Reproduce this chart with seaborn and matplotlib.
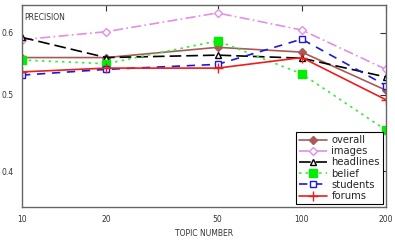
import matplotlib
matplotlib.use("Agg")
import matplotlib.pyplot as plt
import matplotlib.ticker as mticker
import seaborn as sns
import pandas as pd

topics = [10, 20, 50, 100, 200]
overall = [0.558, 0.558, 0.575, 0.567, 0.507]
images = [0.588, 0.602, 0.636, 0.605, 0.539]
headlines = [0.592, 0.558, 0.562, 0.557, 0.527]
belief = [0.554, 0.548, 0.586, 0.532, 0.451]
students = [0.530, 0.539, 0.547, 0.589, 0.514]
forums = [0.535, 0.541, 0.541, 0.558, 0.493]

series = {
    "overall": overall,
    "images": images,
    "headlines": headlines,
    "belief": belief,
    "students": students,
    "forums": forums,
}
styles = {
    "overall": dict(color="#a85a58", marker="D", ms=4, mfc="#a85a58", ls="-"),
    "images": dict(color="#e48ee4", marker="D", ms=4.5, mfc="white", ls=(0, (6, 2, 1, 2))),
    "headlines": dict(color="black", marker="^", ms=4.5, mfc="white", ls=(0, (7, 3))),
    "belief": dict(color="#33ee33", marker="s", ms=5.5, mfc="#00ee00", mec="#00ee00", ls=(0, (1.5, 2.5))),
    "students": dict(color="#1a1adc", marker="s", ms=5, mfc="white", ls=(0, (5, 4))),
    "forums": dict(color="#ee1c1c", marker="+", ms=7, mfc="#ee1c1c", ls="-"),
}

sns.set_style("white")
plt.rcParams["font.family"] = ["DejaVu Sans"]

fig = plt.figure(figsize=(3.95, 2.4), dpi=100)
ax = fig.add_axes([22 / 395, 1 - 207 / 240, (386 - 22) / 395, (207 - 5) / 240])

for name, vals in series.items():
    st = styles[name]
    df = pd.DataFrame({"x": topics, "y": vals})
    sns.lineplot(data=df, x="x", y="y", ax=ax, color=st["color"], marker=st["marker"],
                 markersize=st["ms"], markerfacecolor=st["mfc"],
                 markeredgecolor=st.get("mec", st["color"]), markeredgewidth=1.0,
                 linestyle=st["ls"], linewidth=1.2, label=name)

ax.set_xscale("log")
ax.set_yscale("log")
ax.set_xlim(10, 200)
ax.set_ylim(0.36, 0.651)
ax.xaxis.set_major_locator(mticker.FixedLocator(topics))
ax.xaxis.set_major_formatter(mticker.FixedFormatter([str(t) for t in topics]))
ax.xaxis.set_minor_locator(mticker.NullLocator())
ax.yaxis.set_major_locator(mticker.FixedLocator([0.4, 0.5, 0.6]))
ax.yaxis.set_major_formatter(mticker.FixedFormatter(["0.4", "0.5", "0.6"]))
ax.yaxis.set_minor_locator(mticker.NullLocator())

ax.tick_params(axis="both", which="major", direction="in", length=4, width=0.8,
               labelsize=5.5, colors="#333333", top=True, right=True, pad=6)
for s in ax.spines.values():
    s.set_color("#666666")
    s.set_linewidth(1.0)

ax.set_xlabel("TOPIC NUMBER", fontsize=5.5, color="#333333", labelpad=3)
ax.set_ylabel("")
ax.text(0.006, 0.94, "PRECISION", transform=ax.transAxes, fontsize=5.5, color="#333333",
        ha="left", va="center")

leg = ax.legend(loc="lower right", fontsize=7.2, frameon=True, fancybox=False,
                edgecolor="black", framealpha=1, handlelength=2.8, handletextpad=0.5,
                borderpad=0.3, labelspacing=0.12, borderaxespad=0.3)
leg.get_frame().set_linewidth(0.8)

fig.savefig("out.png", dpi=100)
